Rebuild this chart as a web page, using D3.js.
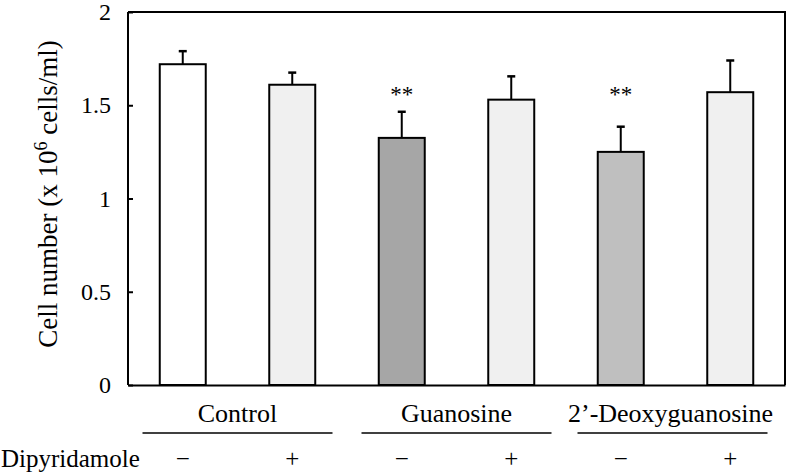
<!DOCTYPE html>
<html>
<head>
<meta charset="utf-8">
<script src="https://cdn.jsdelivr.net/npm/d3@7"></script>
<style>
  body { margin: 0; background: #fff; }
  svg text { font-family: "Liberation Serif", "Times New Roman", Times, serif; fill: #000; }
</style>
</head>
<body>
<div id="chart-area"></div>
<script>
const WIDTH = 787;
const HEIGHT = 474;
const FONT = '"Liberation Serif", "Times New Roman", Times, serif';

// data
const bars = ["c-", "c+", "g-", "g+", "d-", "d+"];
const means = [1.72, 1.61, 1.325, 1.53, 1.25, 1.57];
const errors = [0.07, 0.065, 0.14, 0.125, 0.135, 0.17];
const fills = ["#ffffff", "#f0f0f0", "#a6a6a6", "#f0f0f0", "#bfbfbf", "#f0f0f0"];
const marks = ["", "", "**", "", "**", ""];
const groups = ["Control", "Guanosine", "2\u2019-Deoxyguanosine"];
const signs = ["\u2212", "+", "\u2212", "+", "\u2212", "+"];
const yTicks = [0, 0.5, 1, 1.5, 2];

const svg = d3.select("#chart-area").append("svg")
  .attr("width", WIDTH)
  .attr("height", HEIGHT)
  .attr("font-family", FONT);

const margin = {top: 12, right: 2, bottom: 89, left: 128};
const graphWidth = WIDTH - margin.left - margin.right;
const graphHeight = HEIGHT - margin.top - margin.bottom;

const graph = svg.append("g")
  .attr("transform", `translate(${margin.left}, ${margin.top})`);

// scales
const x = d3.scaleBand()
  .domain(bars)
  .range([0, graphWidth])
  .paddingInner(0.58)
  .paddingOuter(0.29);

const y = d3.scaleLinear()
  .domain([0, 2])
  .range([graphHeight, 0]);

// frame (top + right)
graph.append("path")
  .attr("d", `M0,0H${graphWidth}V${graphHeight}`)
  .attr("fill", "none")
  .attr("stroke", "#000")
  .attr("stroke-width", 2);

// bars
graph.selectAll("rect.bar").data(bars)
  .enter().append("rect")
    .attr("class", "bar")
    .attr("x", d => x(d))
    .attr("y", (d, i) => y(means[i]))
    .attr("width", x.bandwidth())
    .attr("height", (d, i) => graphHeight - y(means[i]))
    .attr("fill", (d, i) => fills[i])
    .attr("stroke", "#000")
    .attr("stroke-width", 2);

// error bars (upper only)
const err = graph.selectAll("g.err").data(bars)
  .enter().append("g")
    .attr("class", "err")
    .attr("transform", d => `translate(${x(d) + x.bandwidth() / 2}, 0)`);

err.append("line")
  .attr("y1", (d, i) => y(means[i]))
  .attr("y2", (d, i) => y(means[i] + errors[i]))
  .attr("stroke", "#000")
  .attr("stroke-width", 2);

err.append("line")
  .attr("x1", -4).attr("x2", 4)
  .attr("y1", (d, i) => y(means[i] + errors[i]))
  .attr("y2", (d, i) => y(means[i] + errors[i]))
  .attr("stroke", "#000")
  .attr("stroke-width", 2.5);

// significance marks sit at one fixed height
err.append("text")
  .attr("y", y(1.5) - 3)
  .attr("text-anchor", "middle")
  .attr("font-size", "23px")
  .text((d, i) => marks[i]);

// axes
const yAxis = d3.axisLeft(y).tickValues(yTicks).tickSize(-5).tickPadding(17)
  .tickFormat(d3.format("~g"));
const yAxisGroup = graph.append("g").call(yAxis).attr("font-family", FONT);
yAxisGroup.select(".domain").attr("stroke-width", 2).attr("d", `M0,0V${graphHeight}`);
yAxisGroup.selectAll(".tick line").attr("stroke-width", 2);
yAxisGroup.selectAll("text").attr("font-size", "24px");

const xAxisGroup = graph.append("g")
  .attr("transform", `translate(0, ${graphHeight})`)
  .call(d3.axisBottom(x).tickSize(0).tickFormat(""));
xAxisGroup.select(".domain").attr("stroke-width", 2);

// y label
graph.append("text")
  .attr("transform", `translate(${-71}, ${182}) rotate(-90)`)
  .attr("text-anchor", "middle")
  .attr("font-size", "27px")
  .call(t => {
    t.append("tspan").text("Cell number (x 10");
    t.append("tspan").attr("font-size", "18px").attr("dy", -10).text("6");
    t.append("tspan").attr("dy", 10).text(" cells/ml)");
  });

// group labels and underlines
const groupCenter = i => (x(bars[2 * i]) + x(bars[2 * i + 1]) + x.bandwidth()) / 2;

graph.selectAll("text.group").data(groups)
  .enter().append("text")
    .attr("class", "group")
    .attr("x", (d, i) => groupCenter(i) - (i === 2 ? 5 : 0))
    .attr("y", graphHeight + 37)
    .attr("text-anchor", "middle")
    .attr("font-size", "26px")
    .text(d => d);

graph.selectAll("line.group").data(groups)
  .enter().append("line")
    .attr("class", "group")
    .attr("x1", (d, i) => groupCenter(i) - 95 - (i === 2 ? 3 : 0))
    .attr("x2", (d, i) => groupCenter(i) + 95 - (i === 2 ? 3 : 0))
    .attr("y1", graphHeight + 48)
    .attr("y2", graphHeight + 48)
    .attr("stroke", "#000")
    .attr("stroke-width", 1.3);

// dipyridamole row
svg.append("text")
  .attr("x", 1)
  .attr("y", 467)
  .attr("font-size", "25px")
  .text("Dipyridamole");

graph.selectAll("text.sign").data(bars)
  .enter().append("text")
    .attr("class", "sign")
    .attr("x", d => x(d) + x.bandwidth() / 2)
    .attr("y", 467 - margin.top)
    .attr("text-anchor", "middle")
    .attr("font-size", "25px")
    .text((d, i) => signs[i]);
</script>
</body>
</html>
